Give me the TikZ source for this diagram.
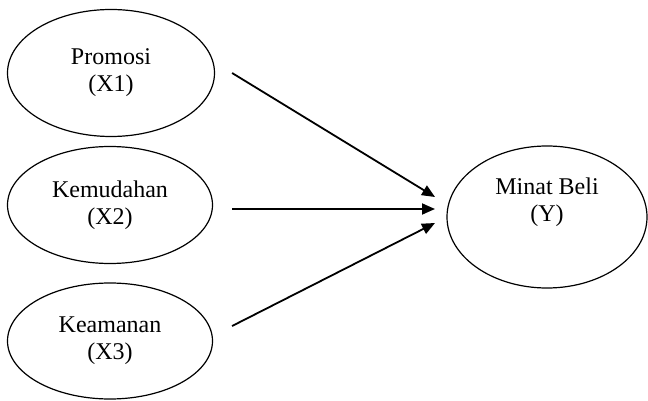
\documentclass[tikz,border=0pt]{standalone}
\usepackage{fontspec}
\setmainfont{Liberation Serif}
\usetikzlibrary{shapes.geometric,arrows.meta}

\tikzset{
  var/.style={ellipse, draw, line width=1.2pt, inner sep=0pt, align=center,
    font=\fontsize{24}{27}\selectfont},
  path/.style={line width=1.8pt, -{Triangle[length=13pt,width=11pt]}}
}

\begin{document}
\begin{tikzpicture}[x=1pt,y=-1pt]

\useasboundingbox (0,0) rectangle (648,401);

% Independent variables
\node[var, minimum width=207pt, minimum height=127pt] (x1) at (111,73) {Promosi\\(X1)};
\node[var, minimum width=205pt, minimum height=117pt] (x2) at (110,205) {Kemudahan\\(X2)};
\node[var, minimum width=205pt, minimum height=116pt] (x3) at (110,341) {Keamanan\\(X3)};

% Dependent variable
\node[var, minimum width=200pt, minimum height=142pt, text depth=34pt] (y) at (547,217) {Minat Beli\\(Y)};

% Arrow ends
\coordinate (e1) at (435,197);
\coordinate (e2) at (435,209);
\coordinate (e3) at (435,223);

\draw[path] ([xshift=17pt]x1.east) -- (e1);
\draw[path] ([xshift=19pt,yshift=-4pt]x2.east) -- (e2);
\draw[path] ([xshift=19pt,yshift=15pt]x3.east) -- (e3);

\end{tikzpicture}
\end{document}
